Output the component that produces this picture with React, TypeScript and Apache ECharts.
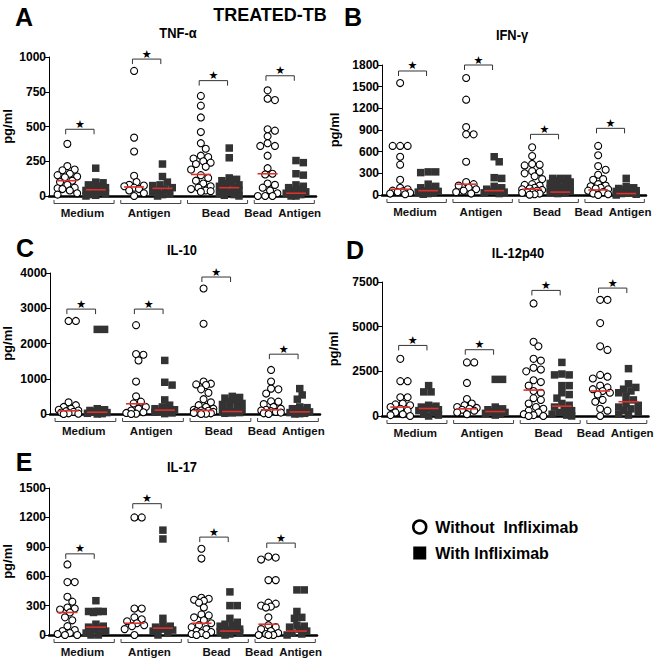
import React, { useEffect, useRef } from "react";
import * as echarts from "echarts";

// ---------- data ----------
const groupLabels = ["Medium", "Antigen", "Bead", "Bead  Antigen"];
const seriesNames = ["Without  Infliximab", "With Infliximab"];

// A: TNF-α (pg/ml)
const tnfWithout = [
  [375, 215, 190, 185, 160, 150, 140, 135, 110, 100, 80, 60, 55, 50, 40, 20, 10],
  [900, 420, 320, 145, 100, 80, 75, 70, 60, 50, 40, 20, 0],
  [720, 650, 565, 460, 380, 340, 290, 280, 270, 250, 240, 230, 210, 190, 150, 130, 110, 90, 70, 60, 50, 40, 35, 30],
  [760, 700, 690, 480, 470, 430, 380, 360, 360, 290, 200, 160, 155, 90, 80, 60, 40, 20, 0, 0, 0],
];
const tnfWith = [
  [200, 100, 95, 80, 70, 60, 50, 40, 30, 20, 10, 5, 0],
  [230, 140, 100, 80, 75, 60, 50, 40, 30, 20, 10, 0],
  [345, 275, 130, 120, 110, 100, 90, 80, 70, 60, 50, 40, 30, 20, 10, 5, 0],
  [255, 240, 160, 150, 80, 70, 60, 50, 40, 30, 20, 10, 0, 0],
];
const tnfMedianWithout = [110, 65, 155, 160];
const tnfMedianWith = [45, 55, 60, 20];
const tnfSigLevel = [480, 985, 830, 865];

// B: IFN-γ
const ifnWithout = [
  [1550, 680, 680, 680, 530, 420, 210, 100, 80, 60, 50, 40, 30, 20, 10],
  [1620, 1320, 940, 840, 840, 460, 180, 150, 130, 100, 80, 60, 40, 20],
  [660, 540, 430, 420, 410, 330, 320, 300, 260, 220, 150, 140, 130, 100, 90, 80, 70, 60, 50, 40, 30, 20, 10, 5],
  [680, 550, 400, 350, 280, 220, 210, 150, 130, 120, 100, 90, 80, 60, 40, 20, 10, 0],
];
const ifnWith = [
  [320, 310, 320, 150, 120, 100, 80, 60, 50, 40, 30, 20, 10],
  [530, 460, 240, 230, 120, 100, 80, 60, 50, 40, 30, 20],
  [230, 230, 230, 220, 200, 180, 160, 150, 130, 110, 100, 90, 80, 70, 60, 50, 40, 30, 20],
  [230, 120, 100, 90, 80, 70, 60, 50, 40, 30, 20, 10, 0],
];
const ifnMedianWithout = [80, 150, 80, 70];
const ifnMedianWith = [60, 60, 40, 20];
const ifnSigLevel = [1717, 1800, 840, 923];

// C: IL-10
const il10Without = [
  [2640, 2640, 330, 250, 200, 150, 120, 100, 80, 60, 40, 20, 10, 0],
  [2520, 1700, 1680, 1520, 920, 500, 350, 300, 200, 150, 100, 50, 30, 10, 0],
  [3560, 2560, 920, 860, 840, 820, 700, 600, 420, 330, 250, 200, 150, 120, 100, 90, 80, 60, 50, 40, 30, 20, 10, 0],
  [1250, 920, 720, 700, 580, 360, 350, 280, 200, 150, 120, 100, 80, 60, 40, 20, 0],
];
const il10With = [
  [2400, 2400, 150, 120, 100, 80, 60, 40, 20, 10, 0],
  [1520, 900, 820, 400, 250, 200, 150, 120, 100, 80, 50, 30, 10],
  [500, 470, 450, 400, 350, 300, 270, 250, 150, 100, 80, 60, 50, 40, 30, 20],
  [720, 540, 420, 200, 180, 150, 100, 80, 60, 40, 20, 10, 0],
];
const il10MedianWithout = [90, 290, 100, 120];
const il10MedianWith = [50, 110, 70, 60];
const il10SigLevel = [2976, 2976, 3886, 1697];

// D: IL-12p40
const il12Without = [
  [3200, 1950, 1950, 1050, 1050, 700, 650, 600, 500, 400, 300, 200, 100, 50, 0],
  [3000, 3000, 1850, 950, 700, 600, 500, 450, 400, 350, 300, 200, 100],
  [6300, 4150, 3900, 3200, 3100, 2700, 2600, 2500, 2000, 1900, 1700, 1400, 1300, 1000, 900, 700, 500, 400, 300, 200, 100, 50, 0, 0],
  [6500, 6500, 5200, 3900, 3700, 2300, 2200, 2100, 1700, 1600, 1500, 1400, 1300, 1200, 900, 800, 400, 300, 0],
];
const il12With = [
  [1700, 1350, 1350, 600, 550, 500, 450, 400, 350, 300, 200, 100, 50, 0],
  [2050, 2050, 500, 400, 350, 300, 250, 200, 150, 100, 50],
  [3000, 2350, 2300, 2300, 1700, 1700, 1300, 1200, 1000, 700, 600, 500, 400, 300, 200, 100, 50, 0],
  [2650, 1800, 1600, 1500, 1400, 1300, 1100, 900, 700, 600, 500, 400, 300, 200, 100, 50],
];
const il12MedianWithout = [500, 400, 1450, 1400];
const il12MedianWith = [420, 250, 550, 800];
const il12SigLevel = [3950, 3710, 7030, 7160];

// E: IL-17
const il17Without = [
  [720, 540, 540, 390, 340, 280, 270, 260, 230, 180, 150, 90, 50, 40, 20, 10, 0, 0],
  [1200, 1200, 270, 270, 180, 160, 140, 120, 100, 90, 60, 0],
  [880, 780, 380, 370, 360, 350, 330, 280, 210, 200, 180, 150, 120, 100, 80, 60, 40, 30, 20, 10, 0, 0],
  [800, 790, 770, 560, 560, 330, 320, 300, 290, 280, 180, 100, 80, 60, 40, 20, 10, 0, 0, 0],
];
const il17With = [
  [350, 240, 240, 240, 240, 230, 110, 90, 80, 70, 60, 40, 20, 0, 0],
  [1070, 980, 170, 100, 90, 80, 70, 60, 50, 40, 20, 0],
  [440, 300, 300, 170, 130, 110, 100, 90, 60, 50, 40, 30, 20, 10, 0],
  [460, 460, 240, 180, 170, 100, 90, 80, 60, 40, 20, 10, 0],
];
const il17MedianWithout = [230, 120, 120, 110];
const il17MedianWith = [80, 70, 40, 40];
const il17SigLevel = [828, 1340, 999, 938];

// ---------- layout ----------
const FONT = '"Liberation Sans", Arial, sans-serif';

const panels = [
  { letter: "A", title: "TNF-α", w: tnfWithout, i: tnfWith, mw: tnfMedianWithout, mi: tnfMedianWith, sig: tnfSigLevel, max: 1000, interval: 250,
    grid: { left: 43, top: 57, width: 273, height: 139 }, nameGap: 35, letterPos: [24, 17], titlePos: [178, 33] },
  { letter: "B", title: "IFN-γ", w: ifnWithout, i: ifnWith, mw: ifnMedianWithout, mi: ifnMedianWith, sig: ifnSigLevel, max: 1800, interval: 300,
    grid: { left: 382, top: 65, width: 264, height: 130 }, nameGap: 41, letterPos: [353, 17], titlePos: [512, 35] },
  { letter: "C", title: "IL-10", w: il10Without, i: il10With, mw: il10MedianWithout, mi: il10MedianWith, sig: il10SigLevel, max: 4000, interval: 1000,
    grid: { left: 44, top: 273, width: 276, height: 141 }, nameGap: 36, letterPos: [25, 248], titlePos: [182, 250] },
  { letter: "D", title: "IL-12p40", w: il12Without, i: il12With, mw: il12MedianWithout, mi: il12MedianWith, sig: il12SigLevel, max: 7500, interval: 2500,
    grid: { left: 382, top: 282, width: 273, height: 134 }, nameGap: 42, letterPos: [355, 250], titlePos: [518, 253] },
  { letter: "E", title: "IL-17", w: il17Without, i: il17With, mw: il17MedianWithout, mi: il17MedianWith, sig: il17SigLevel, max: 1500, interval: 300,
    grid: { left: 43, top: 488, width: 274, height: 147 }, nameGap: 35, letterPos: [24, 462], titlePos: [182, 467] },
];

const SIZE = 7;

function swarmOffsets(values: number[], pxPerY: number, size: number, maxOff: number): number[] {
  const idx = values.map((_, k) => k).sort((a, b) => values[b] - values[a]);
  const placed: { x: number; y: number }[] = [];
  const offs = new Array(values.length).fill(0);
  const step = 2.5;
  const cands: number[] = [0];
  for (let k = 1; k * step <= maxOff; k++) cands.push(k * step, -k * step);
  for (const n of idx) {
    const y = values[n] * pxPerY;
    let chosen: number | null = null;
    let bestD = -1;
    let bestX = 0;
    for (const c of cands) {
      let minD = Infinity;
      for (const p of placed) {
        const d = Math.hypot(p.x - c, p.y - y);
        if (d < minD) minD = d;
      }
      if (minD >= size) { chosen = c; break; }
      if (minD > bestD) { bestD = minD; bestX = c; }
    }
    const x = chosen === null ? bestX : chosen;
    placed.push({ x, y });
    offs[n] = x;
  }
  return offs;
}

const posWithout = (g: number) => 2 * g + 0.55;
const posWith = (g: number) => 2 * g + 1.4;

function buildOption() {
  const grid: any[] = [];
  const xAxis: any[] = [];
  const yAxis: any[] = [];
  const series: any[] = [];
  const graphic: any[] = [
    { type: "text", x: 270, y: 15, style: { text: "TREATED-TB", font: `bold 18px ${FONT}`, fill: "#000", align: "center", verticalAlign: "middle" } },
  ];

  panels.forEach((p, pi) => {
    grid.push({ ...p.grid });
    const pxX = p.grid.width / 8;
    const pxY = p.grid.height / p.max;
    xAxis.push({ type: "value", gridIndex: pi, min: 0, max: 8, show: false });
    xAxis.push({
      type: "category", gridIndex: pi, data: groupLabels, position: "bottom", boundaryGap: true,
      axisLine: { show: true, lineStyle: { color: "#000", width: 2.5 } },
      axisTick: { show: false },
      axisLabel: { interval: 0, hideOverlap: false, margin: 11, color: "#111", fontFamily: FONT, fontWeight: "bold", fontSize: 11.5 },
    });
    yAxis.push({
      type: "value", gridIndex: pi, min: 0, max: p.max, interval: p.interval,
      name: "pg/ml", nameLocation: "middle", nameGap: p.nameGap, nameRotate: 90,
      nameTextStyle: { fontFamily: FONT, fontWeight: "bold", fontSize: 13, color: "#000" },
      axisLine: { show: true, lineStyle: { color: "#000", width: 1 } },
      axisTick: { show: true, length: 4, inside: false, lineStyle: { color: "#000" } },
      splitLine: { show: false },
      axisLabel: { margin: 3, color: "#000", fontFamily: FONT, fontWeight: "bold", fontSize: 12, formatter: (v: number) => String(v) },
    });
    const xi = pi * 2;

    const woData: number[][] = [];
    const wiData: number[][] = [];
    p.w.forEach((vals, g) => {
      const offs = swarmOffsets(vals, pxY, 6.5, 12);
      vals.forEach((v, k) => woData.push([posWithout(g) + offs[k] / pxX, v]));
    });
    p.i.forEach((vals, g) => {
      const offs = swarmOffsets(vals, pxY, 6.5, 12);
      vals.forEach((v, k) => wiData.push([posWith(g) + offs[k] / pxX, v]));
    });

    series.push({
      type: "scatter", name: seriesNames[0], xAxisIndex: xi, yAxisIndex: pi, data: woData,
      symbol: "circle", symbolSize: SIZE, z: 3,
      itemStyle: { color: "#fff", borderColor: "#000", borderWidth: 1.1, opacity: 1 },
    });
    series.push({
      type: "scatter", name: seriesNames[1], xAxisIndex: xi, yAxisIndex: pi, data: wiData,
      symbol: "rect", symbolSize: 7.5, z: 3,
      itemStyle: { color: "#333", opacity: 1 },
    });

    const medData: number[][] = [];
    p.mw.forEach((m, g) => medData.push([posWithout(g), m]));
    p.mi.forEach((m, g) => medData.push([posWith(g), m]));
    series.push({
      type: "custom", xAxisIndex: xi, yAxisIndex: pi, data: medData, z: 6, silent: true,
      renderItem: (_: any, api: any) => {
        const x = api.value(0), y = api.value(1);
        const a = api.coord([x - 0.3, y]);
        const b = api.coord([x + 0.3, y]);
        return { type: "line", shape: { x1: a[0], y1: a[1], x2: b[0], y2: b[1] }, style: { stroke: "#e0302c", lineWidth: 1.6 } };
      },
    });

    const sigData = p.sig.map((s, g) => [posWithout(g) - 0.05, posWith(g) - 0.05, s]);
    series.push({
      type: "custom", xAxisIndex: xi, yAxisIndex: pi, data: sigData, z: 5, silent: true,
      renderItem: (_: any, api: any) => {
        const a = api.coord([api.value(0), api.value(2)]);
        const b = api.coord([api.value(1), api.value(2)]);
        return {
          type: "group",
          children: [
            { type: "polyline", shape: { points: [[a[0], a[1] + 5], [a[0], a[1]], [b[0], a[1]], [b[0], a[1] + 5]] },
              style: { stroke: "#333", lineWidth: 1, fill: null } },
            { type: "text", x: (a[0] + b[0]) / 2, y: a[1] - 5,
              style: { text: "★", font: `11px "DejaVu Sans", sans-serif`, fill: "#000", align: "center", verticalAlign: "middle" } },
          ],
        };
      },
    });

    const brData = groupLabels.map((_, g) => [2 * g + 0.15, 2 * g + 1.95, 0]);
    series.push({
      type: "custom", xAxisIndex: xi, yAxisIndex: pi, data: brData, z: 5, silent: true,
      renderItem: (_: any, api: any) => {
        const a = api.coord([api.value(0), 0]);
        const b = api.coord([api.value(1), 0]);
        const y = a[1] + 7.5;
        return { type: "polyline", shape: { points: [[a[0], y - 3.5], [a[0], y], [b[0], y], [b[0], y - 3.5]] },
          style: { stroke: "#444", lineWidth: 1, fill: null } };
      },
    });

    graphic.push({ type: "text", x: p.letterPos[0], y: p.letterPos[1],
      style: { text: p.letter, font: `bold 25px ${FONT}`, fill: "#000", align: "center", verticalAlign: "middle" } });
    graphic.push({ type: "text", x: p.titlePos[0], y: p.titlePos[1], scaleX: 0.86,
      style: { text: p.title, font: `bold 15px ${FONT}`, fill: "#000", align: "center", verticalAlign: "middle" } });
  });

  return {
    animation: false,
    backgroundColor: "#fff",
    grid, xAxis, yAxis, series, graphic,
    legend: {
      orient: "vertical", left: 412, top: 519, itemWidth: 13, itemHeight: 13, itemGap: 10,
      selectedMode: false, padding: 0,
      textStyle: { fontFamily: FONT, fontWeight: "bold", fontSize: 16, color: "#000", padding: [0, 0, 0, 4] },
      data: [
        { name: seriesNames[0], icon: "circle", itemStyle: { color: "#fff", borderColor: "#000", borderWidth: 2.5 } },
        { name: seriesNames[1], icon: "rect", itemStyle: { color: "#000" } },
      ],
    },
  };
}

export default function App() {
  const ref = useRef<HTMLDivElement>(null);
  useEffect(() => {
    if (!ref.current) return;
    const chart = echarts.init(ref.current, null, { renderer: "svg" });
    chart.setOption(buildOption() as any);
    return () => chart.dispose();
  }, []);
  return <div ref={ref} style={{ position: "absolute", left: 0, top: 0, width: 656, height: 658 }} />;
}
